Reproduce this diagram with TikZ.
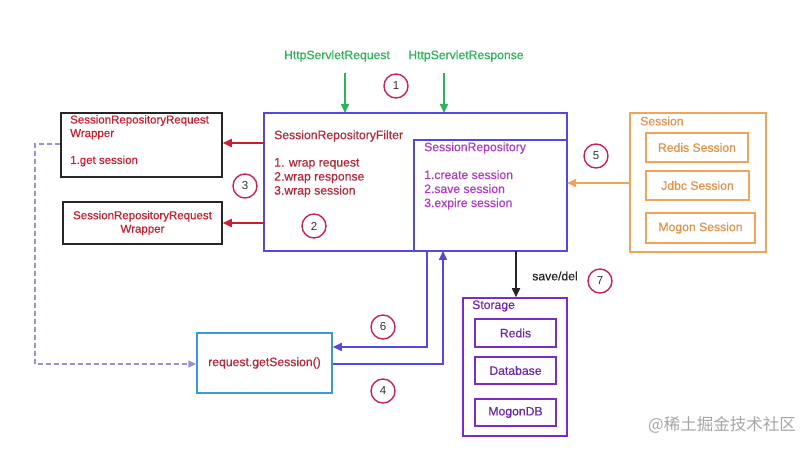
\documentclass[tikz,border=0pt]{standalone}
\usepackage{fontspec}
\setmainfont{Liberation Sans}[BoldFont={Liberation Sans},BoldFeatures={FakeBold=0.6}]
\newfontfamily\cjk{Noto Sans CJK SC}
\usetikzlibrary{arrows.meta,positioning}
\definecolor{cred}{HTML}{C8202E}
\definecolor{cdred}{HTML}{B42A3C}
\definecolor{cmag}{HTML}{B23AC8}
\definecolor{cgreen}{HTML}{2DB35A}
\definecolor{cblue}{HTML}{5548E0}
\definecolor{csky}{HTML}{3A9AD9}
\definecolor{corange}{HTML}{F2A55A}
\definecolor{cotext}{HTML}{E0944A}
\definecolor{cpurple}{HTML}{7A2CC8}
\definecolor{cptext}{HTML}{6A2AB0}
\definecolor{ccircle}{HTML}{C8245C}
\definecolor{cdash}{HTML}{9A90D8}
\tikzset{
  box/.style={draw, line width=1.5pt, inner sep=0pt},
  num/.style={circle, draw=ccircle, line width=1.4pt, minimum size=24pt, inner sep=0pt, font=\fontsize{11.5}{14}\selectfont, text=black!80},
  txt/.style={font=\fontsize{12.2}{14}\selectfont\bfseries, inner sep=0pt},
  stxt/.style={font=\fontsize{11.5}{13.5}\selectfont\bfseries, inner sep=0pt},
  arr/.style={line width=1.6pt, -{Triangle[length=9pt,width=8pt]}},
}
\begin{document}
\begin{tikzpicture}[x=1pt,y=-1pt]
\useasboundingbox (0,0) rectangle (812,449);
\fill[white] (0,0) rectangle (812,449);
% top labels
\node[txt, text=cgreen] (hreq) at (337,56) {HttpServletRequest};
\node[txt, text=cgreen] (hres) at (466,56) {HttpServletResponse};
\node[num] (n1) at (396,86) {1};
% filter box
\draw[box, cblue] (264,113) rectangle (567,251);
\draw[box, cblue] (414,140) rectangle (567,251);
\node[txt, text=cdred, anchor=west] (ftitle) at (274,136) {SessionRepositoryFilter};
\node[txt, text=cdred, anchor=north west, align=left] (flist) at (274,158) {1. wrap request\\2.wrap response\\3.wrap session};
\node[txt, text=cmag, anchor=west] (rtitle) at (424,148) {SessionRepository};
\node[txt, text=cmag, anchor=north west, align=left] (rlist) at (424,170) {1.create session\\2.save session\\3.expire session};
\node[num] (n2) at (314,226) {2};
% green arrows
\coordinate (g1s) at (345,73); \coordinate (g1e) at (345,113);
\coordinate (g2s) at (444,73); \coordinate (g2e) at (444,113);
\draw[arr, cgreen] (g1s) -- (g1e);
\draw[arr, cgreen] (g2s) -- (g2e);
% left wrapper boxes
\node[box, draw=black!85, minimum width=161pt, minimum height=64pt] (w1) at (141.5,145) {};
\node[stxt, text=cred, anchor=north west, align=left] (w1t) at (70,115) {SessionRepositoryRequest\\Wrapper};
\node[stxt, text=cred, anchor=west] (w1l) at (70,161) {1.get session};
\node[box, draw=black!85, minimum width=159pt, minimum height=42pt, stxt, text=cred, align=center] (w2) at (142.5,223) {SessionRepositoryRequest\\Wrapper};
\coordinate (r1s) at (264,143); \coordinate (r2s) at (264,223);
\draw[arr, cred] (r1s) -- (r1s -| w1.east);
\draw[arr, cred] (r2s) -- (r2s -| w2.east);
\node[num] (n3) at (245,186) {3};
% session box
\node[box, draw=corange, minimum width=136pt, minimum height=139pt] (sess) at (698,182.5) {};
\node[txt, text=cotext, anchor=west] (stitle) at (640,121) {Session};
\node[box, draw=corange, minimum width=102pt, minimum height=29pt, txt, text=cotext] (rs) at (697,147.5) {Redis Session};
\node[box, draw=corange, minimum width=103pt, minimum height=29pt, txt, text=cotext] (js) at (697.5,185.5) {Jdbc Session};
\node[box, draw=corange, minimum width=109pt, minimum height=30pt, txt, text=cotext] (ms) at (700.5,228) {Mogon Session};
\coordinate (os) at (630,183); \coordinate (oe) at (567,183);
\draw[arr, corange] (os) -- (oe);
\node[num] (n5) at (596,156) {5};
% request.getSession
\node[box, draw=csky, minimum width=135pt, minimum height=60pt, txt, text=cdred] (gs) at (264.5,363) {request.getSession()};
\coordinate (b6a) at (427,251); \coordinate (b6b) at (427,347);
\draw[arr, cblue] (b6a) -- (b6b) -- (b6b -| gs.east);
\coordinate (b4a) at (443,364); \coordinate (b4b) at (443,251);
\draw[arr, cblue] (b4a -| gs.east) -- (b4a) -- (b4b);
\node[num] (n6) at (383,327) {6};
\node[num] (n4) at (383,391) {4};
% dashed
\coordinate (d1) at (35,144); \coordinate (d2) at (35,364);
\draw[cdash, line width=1.1pt, dash pattern=on 5pt off 3pt, -{Triangle[length=8pt,width=7pt]}] (w1.west |- d1) -- (d1) -- (d2) -- (d2 -| gs.west);
% storage
\node[box, draw=cpurple, minimum width=104pt, minimum height=138pt] (stor) at (515,367) {};
\node[txt, text=cptext, anchor=west] (sttitle) at (472,306) {Storage};
\node[box, draw=cpurple, minimum width=81pt, minimum height=28pt, txt, text=cptext] (sr) at (515.5,333) {Redis};
\node[box, draw=cpurple, minimum width=81pt, minimum height=27pt, txt, text=cptext] (sd) at (515.5,370.5) {Database};
\node[box, draw=cpurple, minimum width=81pt, minimum height=27pt, txt, text=cptext] (sm) at (515.5,412.5) {MogonDB};
\coordinate (ka) at (516,251);
\draw[arr, black!85] (ka) -- (ka |- stor.north);
\node[txt, text=black!85] (sdl) at (555,276) {save/del};
\node[num] (n7) at (600,281) {7};
% watermark
\node[txt, text=black!35, font=\cjk\fontsize{16.5}{18}\selectfont, anchor=east] (wm) at (796,425) {@稀土掘金技术社区};
\end{tikzpicture}
\end{document}
